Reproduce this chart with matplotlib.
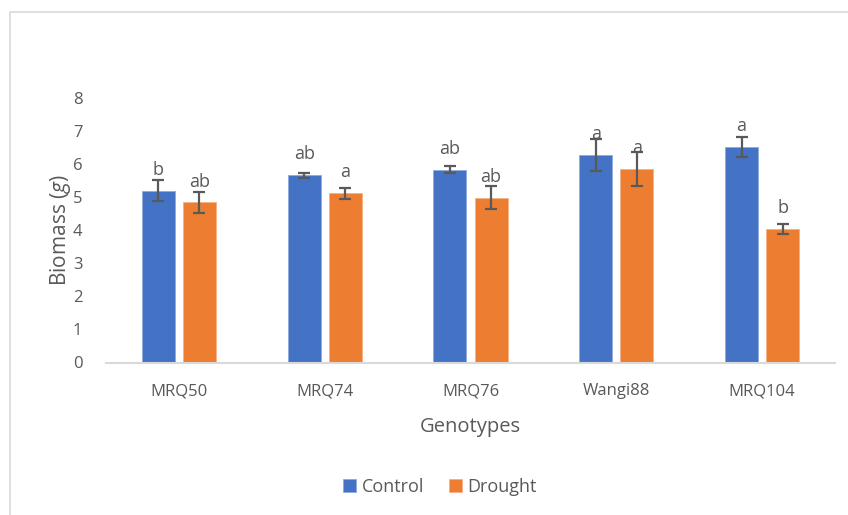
import matplotlib
matplotlib.use("Agg")
import matplotlib.pyplot as plt
import numpy as np
from matplotlib.patches import Rectangle

# Biomass per genotype under control and drought, with SE and significance letters
genotypes = ["MRQ50", "MRQ74", "MRQ76", "Wangi88", "MRQ104"]
control = [5.20, 5.66, 5.83, 6.28, 6.52]
control_err = [0.32, 0.08, 0.10, 0.48, 0.30]
drought = [4.84, 5.12, 4.98, 5.86, 4.04]
drought_err = [0.32, 0.16, 0.35, 0.52, 0.15]
control_letters = ["b", "ab", "ab", "a", "a"]
drought_letters = ["ab", "a", "ab", "a", "b"]
yticks = [0, 1, 2, 3, 4, 5, 6, 7, 8]

blue = "#4472C4"
orange = "#ED7D31"
text_grey = "#595959"
err_grey = "#595959"

plt.rcParams["font.family"] = ["Open Sans", "DejaVu Sans"]
plt.rcParams["mathtext.fontset"] = "custom"
plt.rcParams["mathtext.it"] = "Open Sans:italic"
plt.rcParams["mathtext.rm"] = "Open Sans"

fig = plt.figure(figsize=(8.48, 5.15), dpi=100)
fig.patch.set_facecolor("white")

# chart area frame
fig.patches.append(Rectangle((9.5 / 848, -0.2), 1.5, 1 - 11.5 / 515 + 0.2,
                             transform=fig.transFigure, fill=False,
                             edgecolor="#D9D9D9", linewidth=1.2))

ax = fig.add_axes([106 / 848, 1 - 362.5 / 515, 729 / 848, (362.5 - 98) / 515])

x = np.arange(len(genotypes))
w = 0.226
off = 0.141
ekw = dict(ecolor=err_grey, elinewidth=1.6, capsize=4.5, capthick=1.6)
ax.bar(x - off, control, w, color=blue, edgecolor="#8FAADC", linewidth=0.6,
       yerr=control_err, error_kw=ekw, label="Control", zorder=2)
ax.bar(x + off, drought, w, color=orange, edgecolor="#F4B183", linewidth=0.6,
       yerr=drought_err, error_kw=ekw, label="Drought", zorder=2)

# letters sit a fixed distance above each bar's value
for i in range(len(genotypes)):
    ax.text(x[i] - off, control[i] + 0.48, control_letters[i],
            ha="center", va="baseline", fontsize=13, color=text_grey, zorder=3)
    ax.text(x[i] + off, drought[i] + 0.48, drought_letters[i],
            ha="center", va="baseline", fontsize=13, color=text_grey, zorder=3)

ax.set_xlim(-0.5, len(genotypes) - 0.5)
ax.set_ylim(0, 8)
ax.set_yticks(yticks)
ax.set_xticks(x)
ax.set_xticklabels(genotypes)
for s in ["top", "right", "left"]:
    ax.spines[s].set_visible(False)
ax.spines["bottom"].set_color("#D9D9D9")
ax.spines["bottom"].set_linewidth(1.5)
ax.tick_params(axis="both", length=0, colors=text_grey, labelsize=12)
ax.tick_params(axis="y", pad=17)
ax.tick_params(axis="x", pad=15)

ax.set_ylabel("Biomass ($\\mathit{g}$)", fontsize=15, color=text_grey, labelpad=0)
ax.set_xlabel("Genotypes", fontsize=14.5, color=text_grey, labelpad=13)

leg = fig.legend(loc="center", bbox_to_anchor=(440 / 848, 1 - 487 / 515), ncol=2,
                 frameon=False, fontsize=13, handlelength=0.7, handleheight=0.7,
                 handletextpad=0.3, columnspacing=1.4, labelcolor=text_grey)

fig.savefig("out.png", dpi=100, facecolor="white")
